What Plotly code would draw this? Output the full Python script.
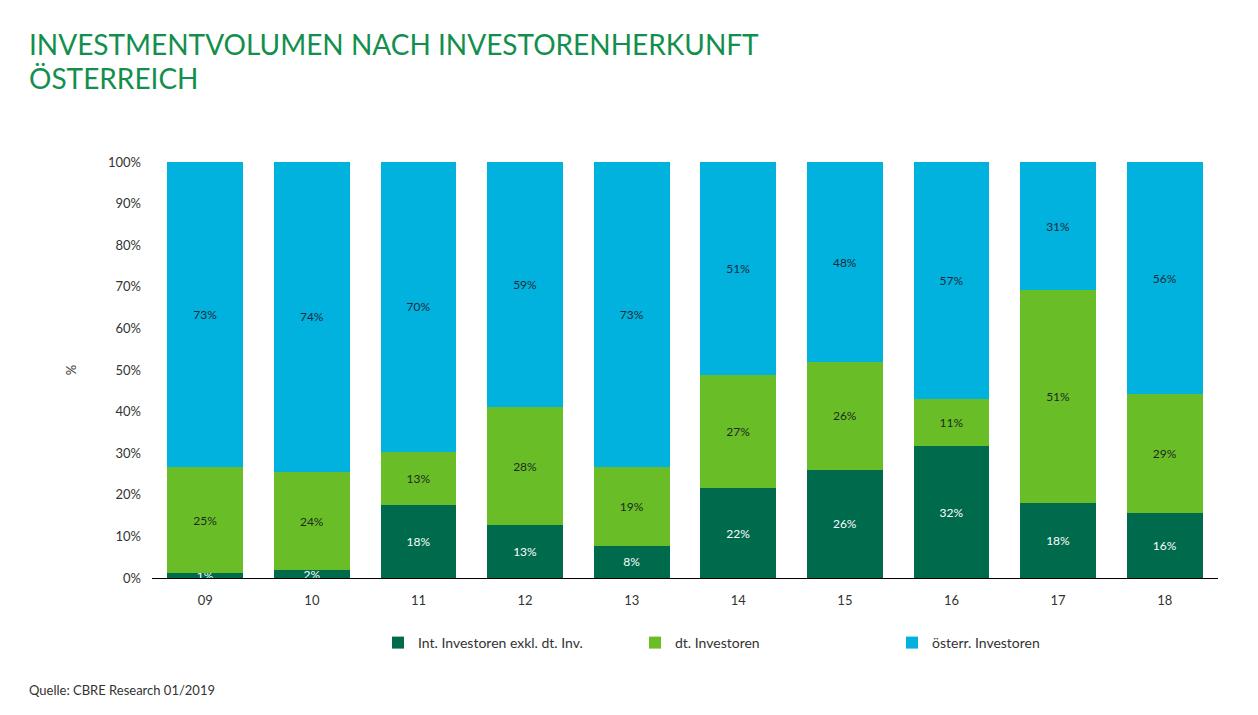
import plotly.graph_objects as go

years = ["09", "10", "11", "12", "13", "14", "15", "16", "17", "18"]
intl = [1.2, 1.9, 17.6, 12.7, 7.7, 21.6, 26.0, 31.7, 18.0, 15.6]
dt = [25.4, 23.6, 12.8, 28.4, 19.0, 27.2, 25.9, 11.4, 51.2, 28.6]
oe = [73.4, 74.5, 69.6, 58.9, 73.3, 51.2, 48.1, 56.9, 30.8, 55.8]

names = ["Int. Investoren exkl. dt. Inv.", "dt. Investoren", "österr. Investoren"]
colors = ["#006A4D", "#69BE28", "#00B2DD"]
text_colors = ["#FFFFFF", "#1E2A1E", "#1E2A3A"]

FONT = "Lato"
L, T, B = 152, 162, 137
PW, PH = 1066, 416


def px(x):
    return (x - L) / PW


def py(y):
    return (715 - B - y) / PH


fig = go.Figure()
for vals, name, col, tcol in zip([intl, dt, oe], names, colors, text_colors):
    fig.add_trace(go.Bar(
        x=years, y=vals, name=name,
        marker=dict(color=col, line=dict(width=0)),
        text=[f"{round(v)}%" for v in vals],
        textposition="inside", insidetextanchor="middle", textangle=0,
        textfont=dict(color=tcol, size=12, family=FONT),
        hoverinfo="skip",
    ))

fig.update_layout(
    barmode="stack",
    bargap=0.29,
    width=1258, height=715,
    margin=dict(l=L, r=1258 - L - PW, t=T, b=B),
    plot_bgcolor="white", paper_bgcolor="white",
    font=dict(family=FONT, color="#333333", size=13),
    uniformtext=dict(mode="show", minsize=12),
    showlegend=True,
    legend=dict(
        orientation="h", x=px(378), xanchor="left", y=py(643), yanchor="middle",
        entrywidth=212, entrywidthmode="pixels",
        font=dict(size=14, family=FONT, color="#333333"),
        traceorder="normal", itemclick=False, itemdoubleclick=False,
    ),
    xaxis=dict(
        showline=True, linecolor="#000000", linewidth=1,
        showgrid=False, ticks="", tickfont=dict(size=13),
        ticklabelstandoff=10,
    ),
    yaxis=dict(
        range=[0, 100], dtick=10, ticksuffix="%", showgrid=False,
        zeroline=False, showline=False, ticks="",
        tickfont=dict(size=13), ticklabelstandoff=10,
        title=dict(text="%", standoff=28, font=dict(size=13)),
    ),
    annotations=[
        dict(text="INVESTMENTVOLUMEN NACH INVESTORENHERKUNFT",
             xref="paper", yref="paper", x=px(27), y=py(44),
             xanchor="left", yanchor="middle", showarrow=False, align="left",
             font=dict(size=28, color="#138F4D", family=FONT)),
        dict(text="ÖSTERREICH",
             xref="paper", yref="paper", x=px(27), y=py(78),
             xanchor="left", yanchor="middle", showarrow=False, align="left",
             font=dict(size=28, color="#138F4D", family=FONT)),
        dict(text="Quelle: CBRE Research 01/2019",
             xref="paper", yref="paper", x=px(27), y=py(690),
             xanchor="left", yanchor="middle", showarrow=False,
             font=dict(size=13, color="#333333", family=FONT)),
    ],
)

fig.write_html("out.html")
